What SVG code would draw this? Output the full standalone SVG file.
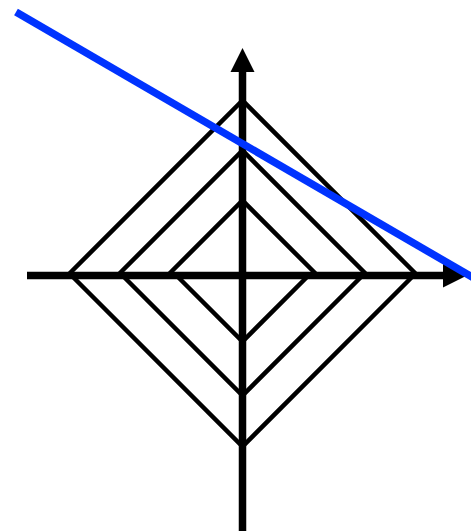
<svg xmlns="http://www.w3.org/2000/svg" width="471" height="531" viewBox="0 0 471 531">
<style>
.ch{fill:none;stroke:#000;stroke-width:4.5;stroke-linejoin:miter}
.ax{stroke:#000;stroke-width:7.5;fill:none}
.hd{fill:#000;stroke:none}
.bl{stroke:#0033ff;stroke-width:7.5;fill:none}
</style>
<rect width="471" height="531" fill="#fff"/>
<g id="upper-chevrons">
<polyline class="ch" points="67.5,275.5 242.5,100.5 417.5,275.5"/>
<polyline class="ch" points="117.5,275.5 242.5,150.5 367.5,275.5"/>
<polyline class="ch" points="167.5,275.5 242.5,200.5 317.5,275.5"/>
</g>
<g id="lower-chevrons">
<polyline class="ch" points="71.5,275.5 242.5,446.5 413.5,275.5"/>
<polyline class="ch" points="122.5,275.5 242.5,395.5 362.5,275.5"/>
<polyline class="ch" points="176.5,275.5 242.5,341.5 308.5,275.5"/>
</g>
<g id="axes">
<line class="ax" x1="242.5" y1="531" x2="242.5" y2="70"/>
<polygon class="hd" points="242.5,48 254.5,72 230.5,72"/>
<line class="ax" x1="27" y1="275.5" x2="446" y2="275.5"/>
<polygon class="hd" points="467,275.5 443,263.5 443,287.5"/>
</g>
<g id="blue-line">
<line class="bl" x1="16" y1="12" x2="478" y2="280.5"/>
</g>
</svg>
